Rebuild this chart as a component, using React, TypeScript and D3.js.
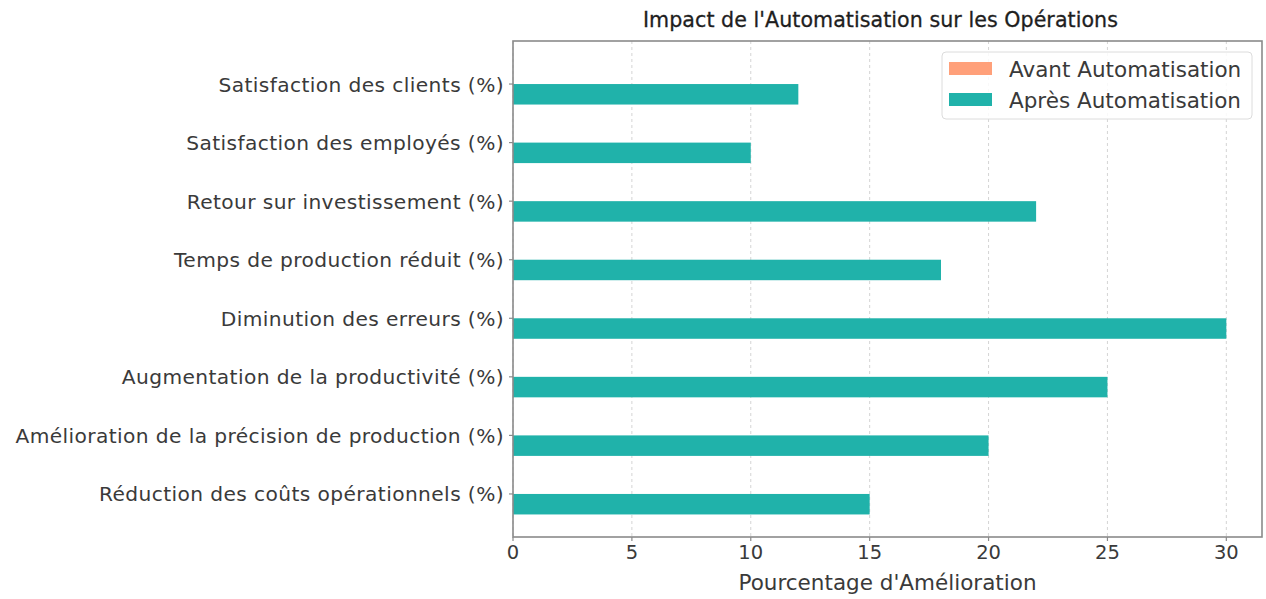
import React from "react";
import * as d3 from "d3";

const categories = [
  "Réduction des coûts opérationnels (%)",
  "Amélioration de la précision de production (%)",
  "Augmentation de la productivité (%)",
  "Diminution des erreurs (%)",
  "Temps de production réduit (%)",
  "Retour sur investissement (%)",
  "Satisfaction des employés (%)",
  "Satisfaction des clients (%)",
];
const avantValues = [0, 0, 0, 0, 0, 0, 0, 0];
const apresValues = [15, 20, 25, 30, 18, 22, 10, 12];
const xTicks = [0, 5, 10, 15, 20, 25, 30];
const seriesNames = ["Avant Automatisation", "Après Automatisation"];
const seriesColors = ["#FFA07A", "#20B2AA"];

const W = 1266;
const H = 599;
const M = { left: 513, right: 1262, top: 41, bottom: 537 };
const BAR_H = 0.35;
const FONT = "'DejaVu Sans', sans-serif";

export default function App() {
  const maxV = d3.max(apresValues.concat(avantValues)) as number;
  const x = d3.scaleLinear().domain([0, maxV * 1.05]).range([M.left, M.right]);
  const lo = -BAR_H;
  const hi = categories.length - 1 + BAR_H;
  const pad = (hi - lo) * 0.05;
  const y = d3.scaleLinear().domain([lo - pad, hi + pad]).range([M.bottom, M.top]);

  return (
    <svg
      width={W}
      height={H}
      style={{ position: "absolute", left: 0, top: 0, background: "#fff" }}
      fontFamily={FONT}
    >
      {/* grid */}
      {xTicks.map((t) => (
        <line
          key={"g" + t}
          x1={x(t)}
          x2={x(t)}
          y1={M.top}
          y2={M.bottom}
          stroke="#cfcfcf"
          strokeWidth={0.9}
          strokeDasharray="3,3"
        />
      ))}
      {/* bars */}
      {categories.map((c, i) => (
        <g key={c}>
          <rect
            x={x(0)}
            y={y(i + BAR_H)}
            width={x(avantValues[i]) - x(0)}
            height={y(i) - y(i + BAR_H)}
            fill={seriesColors[0]}
          />
          <rect
            x={x(0)}
            y={y(i)}
            width={x(apresValues[i]) - x(0)}
            height={y(i - BAR_H) - y(i)}
            fill={seriesColors[1]}
          />
        </g>
      ))}
      {/* spines */}
      <rect
        x={M.left}
        y={M.top}
        width={M.right - M.left}
        height={M.bottom - M.top}
        fill="none"
        stroke="#8a8a8a"
        strokeWidth={1.6}
      />
      {/* y ticks */}
      {categories.map((c, i) => (
        <g key={"yt" + i}>
          <line x1={M.left - 4} x2={M.left} y1={y(i)} y2={y(i)} stroke="#8a8a8a" strokeWidth={1.2} />
          <text
            x={M.left - 9}
            y={y(i)}
            dy="0.37em"
            textAnchor="end"
            fontSize={20.2}
            letterSpacing={0.4}
            fill="#3a3a3a"
          >
            {c}
          </text>
        </g>
      ))}
      {/* x ticks */}
      {xTicks.map((t) => (
        <g key={"xt" + t}>
          <line x1={x(t)} x2={x(t)} y1={M.bottom} y2={M.bottom + 4} stroke="#8a8a8a" strokeWidth={1.2} />
          <text x={x(t)} y={M.bottom + 22} textAnchor="middle" fontSize={19.5} fill="#3a3a3a">
            {t}
          </text>
        </g>
      ))}
      <text
        x={(M.left + M.right) / 2}
        y={590}
        textAnchor="middle"
        fontSize={21.5}
        fill="#3a3a3a"
      >
        Pourcentage d'Amélioration
      </text>
      <text
        x={(M.left + M.right) / 2 - 7}
        y={27}
        textAnchor="middle"
        fontSize={20.6}
        letterSpacing={0.05}
        fontWeight={500}
        fill="#1e1e1e"
        stroke="#1e1e1e"
        strokeWidth={0.3}
      >
        Impact de l'Automatisation sur les Opérations
      </text>
      {/* legend */}
      <g>
        <rect
          x={942}
          y={52}
          width={310}
          height={67}
          rx={4}
          fill="#fff"
          fillOpacity={0.85}
          stroke="#dcdcdc"
          strokeWidth={1}
        />
        {seriesNames.map((s, k) => (
          <g key={s}>
            <rect x={949} y={62 + k * 31} width={43} height={13} fill={seriesColors[k]} />
            <text x={1009} y={69 + k * 31} dy="0.35em" fontSize={21.5} fill="#3a3a3a">
              {s}
            </text>
          </g>
        ))}
      </g>
    </svg>
  );
}
